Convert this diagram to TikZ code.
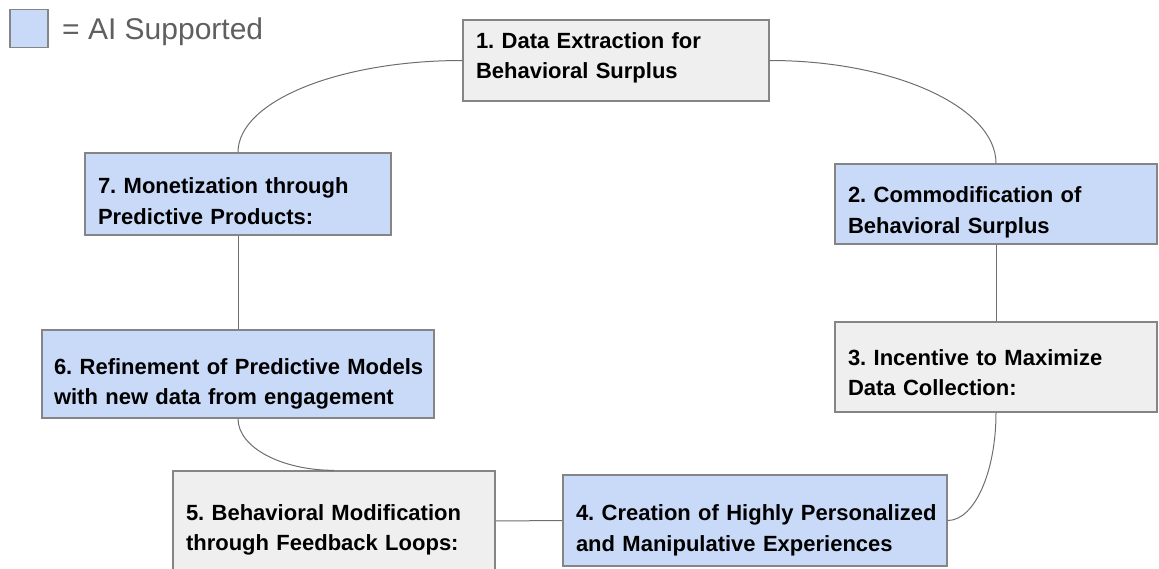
\documentclass[tikz,border=0pt]{standalone}
\usepackage{fontspec}
\setmainfont{Liberation Sans}
\definecolor{aiblue}{HTML}{C9DAF8}
\definecolor{plaingrey}{HTML}{EFEFEF}
\definecolor{edgegrey}{HTML}{858585}
\definecolor{linkgrey}{HTML}{6E6E6E}
\definecolor{legendtext}{HTML}{5F5F5F}
\begin{document}
\begin{tikzpicture}[x=1pt,y=-1pt,
  stagebox/.style={draw=edgegrey, line width=1.3pt, rectangle, inner xsep=13pt,
    inner ysep=0pt, align=left, text height=20pt, text depth=20pt,
    font=\fontsize{22}{30.5}\selectfont\bfseries,
    execute at begin node={\frenchspacing}},
  aistage/.style={stagebox, fill=aiblue},
  plainstage/.style={stagebox, fill=plaingrey},
  link/.style={draw=linkgrey, line width=1pt}]
\useasboundingbox (0,0) rectangle (1159,569);

% legend
\node[draw=edgegrey, line width=1.3pt, fill=aiblue, minimum width=38pt,
  minimum height=38pt, inner sep=0pt] (legendkey) at (29,28.5) {};
\node[anchor=base west, inner sep=0pt, text=legendtext,
  font=\fontsize{30}{35}\selectfont] (legendlabel) at (62,40) {= AI Supported};

% stages of the cycle (each line kept whole)
\node[plainstage, text width=280pt, minimum height=81pt,
  text height=8pt, text depth=32pt] (n1) at (616,60.5)
  {\mbox{1. Data Extraction for}\\\mbox{Behavioral Surplus}};
\node[aistage, text width=296pt, minimum height=80pt,
  text height=19pt, text depth=21pt] (n2) at (996,204)
  {\mbox{2. Commodification of}\\\mbox{Behavioral Surplus}};
\node[plainstage, text width=296pt, minimum height=90pt,
  text height=18pt, text depth=22pt] (n3) at (996,367)
  {\mbox{3. Incentive to Maximize}\\\mbox{Data Collection:}};
\node[aistage, text width=358pt, minimum height=91pt] (n4) at (755,520.5)
  {\mbox{4. Creation of Highly Personalized}\\\mbox{and Manipulative Experiences}};
\node[plainstage, text width=296pt, minimum height=100pt,
  text height=19pt, text depth=21pt] (n5) at (334,521)
  {\mbox{5. Behavioral Modification}\\\mbox{through Feedback Loops:}};
\node[aistage, inner xsep=12pt, text width=368pt, minimum height=88pt] (n6) at (238,374)
  {\mbox{6. Refinement of Predictive Models}\\\mbox{with new data from engagement}};
\node[aistage, text width=280pt, minimum height=82pt] (n7) at (238,194)
  {\mbox{7. Monetization through}\\\mbox{Predictive Products:}};

% connectors
\draw[link] (n1.west) .. controls +(-124,0) and +(0,-51) .. (n7.north);
\draw[link] (n1.east) .. controls +(125,0) and +(0,-56) .. (n2.north);
\draw[link] (n2.south) -- (n3.north);
\draw[link] (n3.south) .. controls +(0,59) and +(27,0) .. (n4.east);
\draw[link] (n4.west) -- (n5.east);
\draw[link] (n6.south) .. controls +(0,29) and +(-52,0) .. (n5.north);
\draw[link] (n7.south) -- (n6.north);
\end{tikzpicture}
\end{document}
